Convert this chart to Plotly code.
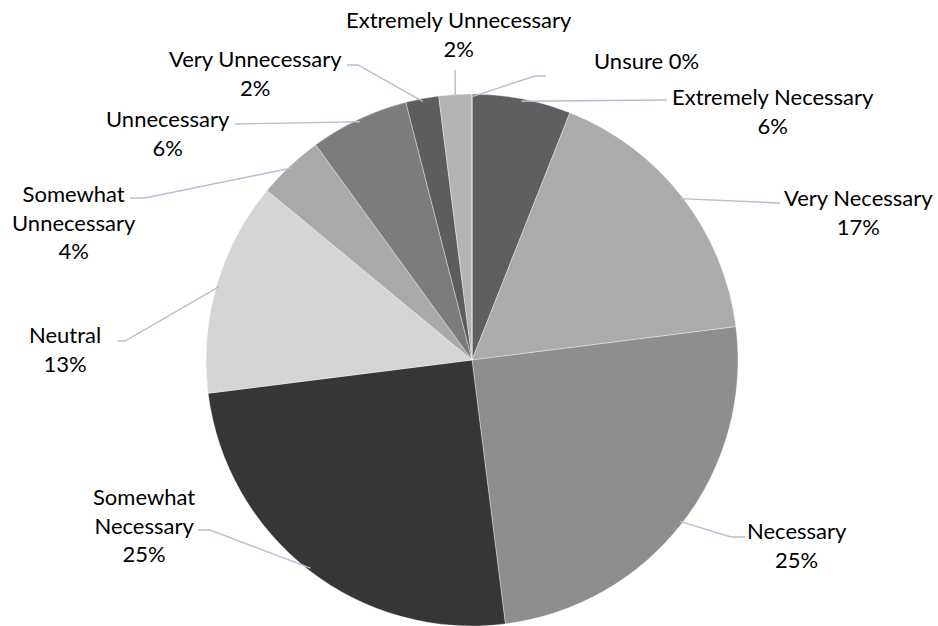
import math
import plotly.graph_objects as go

# Survey responses (percent of respondents), clockwise from 12 o'clock
categories = [
    "Extremely Necessary", "Very Necessary", "Necessary", "Somewhat Necessary",
    "Neutral", "Somewhat Unnecessary", "Unnecessary", "Very Unnecessary",
    "Extremely Unnecessary", "Unsure",
]
values = [6, 17, 25, 25, 13, 4, 6, 2, 2, 0]
display_names = [
    "Extremely Necessary", "Very Necessary", "Necessary", "Somewhat<br>Necessary",
    "Neutral", "Somewhat<br>Unnecessary", "Unnecessary", "Very Unnecessary",
    "Extremely Unnecessary", "Unsure",
]

slice_colors = [
    "#5f5f5f", "#ababab", "#8e8e8e", "#363636", "#d5d5d5",
    "#a9a9a9", "#7c7c7c", "#5d5d5d", "#b4b4b4", "#9a9a9a",
]

W, H = 938, 626
CX, CY, R = 472, 360, 266  # pie centre and radius in pixels

# Label block centres and leader-line elbow points (pixels, from top-left)
label_xy = [
    (773, 111), (858, 212), (797, 545), (144, 525), (65, 349),
    (74, 222), (168, 133), (255, 73), (459, 34), (646, 60),
]
elbows = [
    [(667, 100)],
    [(780, 203)],
    [(731, 537), (745, 537)],
    [(210, 530), (198, 530)],
    [(125, 341), (118, 341)],
    [(145, 198), (130, 198)],
    [(235, 124)],
    [(358, 65), (347, 65)],
    [(455, 70)],
    [(535, 76), (546, 76)],
]


def px(x, y):
    return x / W, 1 - y / H


fig = go.Figure()
fig.add_trace(go.Pie(
    labels=categories,
    values=values,
    sort=False,
    direction="clockwise",
    rotation=0,
    textinfo="none",
    hoverinfo="label+percent",
    marker=dict(colors=slice_colors, line=dict(color="rgba(255,255,255,0.6)", width=0.6)),
    domain=dict(x=[(CX - R) / W, (CX + R) / W], y=[(H - CY - R) / H, (H - CY + R) / H]),
    showlegend=False,
))

total = sum(values)
cum = 0
shapes, annotations = [], []
for i, v in enumerate(values):
    mid = (cum + v / 2) / total
    cum += v
    ang = 2 * math.pi * mid
    ex = CX + 0.99 * R * math.sin(ang)
    ey = CY - 0.99 * R * math.cos(ang)
    pts = [(ex, ey)] + elbows[i]
    path = ""
    for j, (x, y) in enumerate(pts):
        u, w = px(x, y)
        path += ("M" if j == 0 else " L") + f"{u:.5f},{w:.5f}"
    shapes.append(dict(type="path", xref="paper", yref="paper", path=path,
                       line=dict(color="#b3c0d4", width=1.4)))

    name = display_names[i]
    if name == "Unsure":
        text = f"{name} {v}%"
    else:
        text = f"{name}<br>{v}%"
    ax, ay = px(*label_xy[i])
    annotations.append(dict(x=ax, y=ay, xref="paper", yref="paper", text=text,
                            showarrow=False, xanchor="center", yanchor="middle",
                            align="center", font=dict(family="Lato", size=22, color="#000000")))

fig.update_layout(
    width=W, height=H,
    margin=dict(l=0, r=0, t=0, b=0),
    paper_bgcolor="white", plot_bgcolor="white",
    shapes=shapes, annotations=annotations,
)

fig.write_html("out.html")
